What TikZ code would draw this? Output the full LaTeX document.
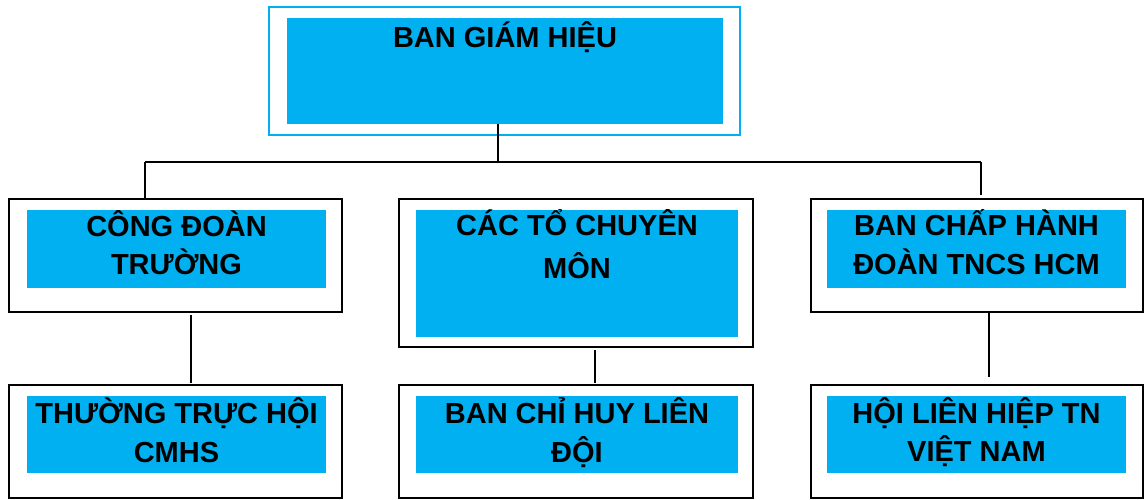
\documentclass[tikz,border=0pt]{standalone}
\usepackage{fontspec}
\setmainfont{Liberation Sans}
\definecolor{boxcyan}{HTML}{00B0F0}
\begin{document}
\begin{tikzpicture}[x=1pt,y=-1pt,
  outerbox/.style={draw=black,line width=2pt,fill=white,inner sep=0pt,outer sep=0pt},
  topouter/.style={draw=boxcyan,line width=2pt,fill=white,inner sep=0pt,outer sep=0pt},
  innerbox/.style={fill=boxcyan,draw=none,inner sep=0pt,outer sep=0pt},
  lbl/.style={font=\fontsize{29}{35}\selectfont\bfseries,inner sep=0pt,anchor=base,text=black},
  conn/.style={draw=black,line width=2pt}]
\useasboundingbox (0,0) rectangle (1146,499);
% top
\node[topouter,minimum width=471pt,minimum height=128pt] (to) at (504.5,71) {};
\node[innerbox,minimum width=436pt,minimum height=106pt] (ti) at (505,71) {};
\node[lbl] (t1) at (505,47) {BAN GIÁM HIỆU};
% middle row
\node[outerbox,minimum width=333pt,minimum height=113pt] (o1) at (175.5,255.5) {};
\node[innerbox,minimum width=299pt,minimum height=78pt] (i1) at (176.5,249) {};
\node[lbl] (l1a) at (176.5,236) {CÔNG ĐOÀN};
\node[lbl] (l1b) at (176.5,274) {TRƯỜNG};
\node[outerbox,minimum width=354pt,minimum height=148pt] (o2) at (576,273) {};
\node[innerbox,minimum width=322pt,minimum height=127pt] (i2) at (577,273.5) {};
\node[lbl] (l2a) at (577,235) {CÁC TỔ CHUYÊN};
\node[lbl] (l2b) at (577,278) {MÔN};
\node[outerbox,minimum width=332pt,minimum height=113pt] (o3) at (977,255.5) {};
\node[innerbox,minimum width=299pt,minimum height=78pt] (i3) at (976.5,249) {};
\node[lbl] (l3a) at (976.5,235) {BAN CHẤP HÀNH};
\node[lbl] (l3b) at (976.5,274) {ĐOÀN TNCS HCM};
% bottom row
\node[outerbox,minimum width=333pt,minimum height=113pt] (b1) at (175.5,441.5) {};
\node[innerbox,minimum width=299pt,minimum height=77pt] (j1) at (176.5,434.5) {};
\node[lbl] (m1a) at (176.5,423) {THƯỜNG TRỰC HỘI};
\node[lbl] (m1b) at (176.5,462) {CMHS};
\node[outerbox,minimum width=354pt,minimum height=113pt] (b2) at (576,441.5) {};
\node[innerbox,minimum width=322pt,minimum height=77pt] (j2) at (577,434.5) {};
\node[lbl] (m2a) at (577,423) {BAN CHỈ HUY LIÊN};
\node[lbl] (m2b) at (577,462) {ĐỘI};
\node[outerbox,minimum width=332pt,minimum height=113pt] (b3) at (977,441.5) {};
\node[innerbox,minimum width=299pt,minimum height=77pt] (j3) at (976.5,434.5) {};
\node[lbl] (m3a) at (976.5,423) {HỘI LIÊN HIỆP TN};
\node[lbl] (m3b) at (976.5,461) {VIỆT NAM};
% connectors
\coordinate (busL) at (145,162);
\coordinate (busR) at (981,162);
\coordinate (busT) at (498,162);
\coordinate (c1) at (191,0);
\coordinate (c2) at (595,0);
\coordinate (c3) at (989,0);
\draw[conn] (ti.south -| busT) -- (busT);
\draw[conn] (busL) -- (busR);
\draw[conn] (busL) -- ([yshift=1pt]busL |- o1.north);
\draw[conn] (busR) -- ([yshift=4pt]busR |- o3.north);
\draw[conn] ([yshift=-3pt]o1.south -| c1) -- ([yshift=2pt]b1.north -| c1);
\draw[conn] ([yshift=-3pt]o2.south -| c2) -- ([yshift=2pt]b2.north -| c2);
\draw[conn] (o3.south -| c3) -- ([yshift=8pt]b3.north -| c3);
\end{tikzpicture}
\end{document}
